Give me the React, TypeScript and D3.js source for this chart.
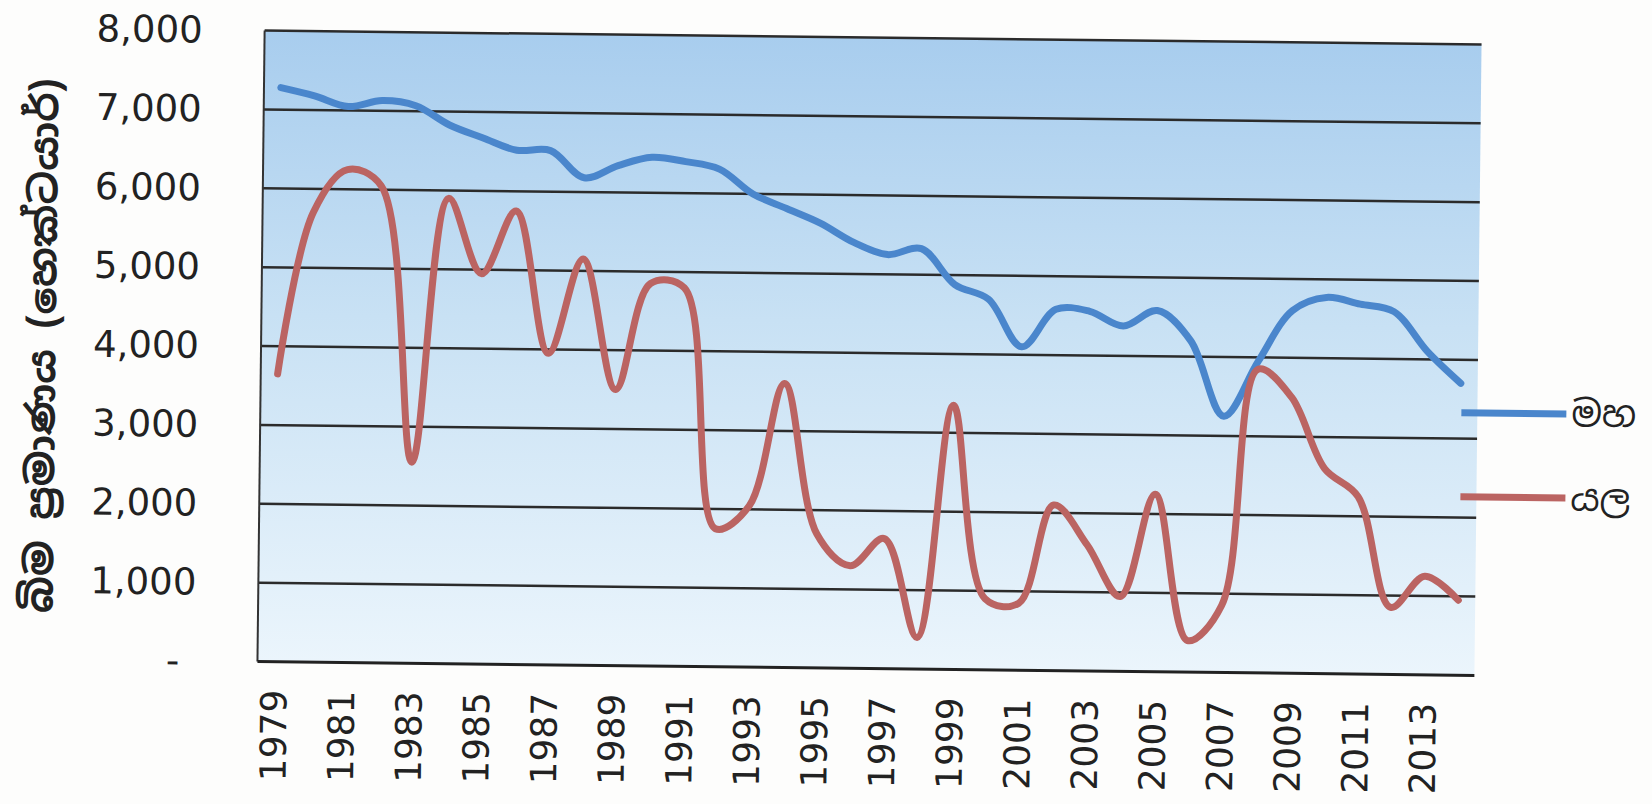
import React from 'react';
import * as d3 from 'd3';

// cultivated extent per season, hectares
const years = [
  1979, 1980, 1981, 1982, 1983, 1984, 1985, 1986, 1987, 1988, 1989, 1990,
  1991, 1992, 1993, 1994, 1995, 1996, 1997, 1998, 1999, 2000, 2001, 2002,
  2003, 2004, 2005, 2006, 2007, 2008, 2009, 2010, 2011, 2012, 2013, 2014,
];
const maha = [
  7280, 7180, 7050, 7130, 7070, 6830, 6670, 6520, 6520, 6180, 6340, 6450,
  6400, 6310, 6000, 5820, 5640, 5400, 5250, 5330, 4880, 4700, 4100, 4580,
  4560, 4380, 4580, 4200, 3250, 3950, 4600, 4770, 4690, 4600, 4100, 3700,
];
const yala = [
  3650, 5700, 6250, 6050, 2550, 5900, 4950, 5750, 3950, 5150, 3500, 4850,
  4800, 1750, 2050, 3600, 1700, 1300, 1650, 400, 3350, 900, 850, 2100,
  1600, 950, 2250, 400, 850, 3850, 3500, 2600, 2250, 850, 1250, 950,
];
const yTicks = [0, 1000, 2000, 3000, 4000, 5000, 6000, 7000, 8000];
const xTickYears = years.filter((_, i) => i % 2 === 0 && i < 35);
const seriesNames = ['මහ', 'යල'];
const seriesColors = ['#4a86cc', '#bb6462'];
const yTitle = 'බිම ප්‍රමාණය (හෙක්ටයාර්)';

const W = 1652;
const H = 804;
const margin = { top: 37.5, right: 174, bottom: 135.5, left: 261 };
const numFont = '"DejaVu Sans", Verdana, sans-serif';
const sinFont = '"Noto Sans Sinhala", "Iskoola Pota", "Noto Sans", sans-serif';

const App: React.FC = () => {
  const x = d3.scaleBand<number>()
    .domain(years)
    .range([margin.left, W - margin.right]);
  const y = d3.scaleLinear()
    .domain([0, 8000])
    .range([H - margin.bottom, margin.top]);
  const cx = (yr: number) => x(yr)! + x.bandwidth() / 2;

  const line = d3.line<number>()
    .x((_, i) => cx(years[i]))
    .y(d => y(d))
    .curve(d3.curveCatmullRom.alpha(0.5));

  const fmt = d3.format(',');
  const plotW = W - margin.right - margin.left;
  const series = [maha, yala];

  return (
    <svg width={W} height={H} style={{ position: 'absolute', left: 0, top: 0, background: '#fdfdfc' }}>
      <defs>
        <linearGradient id="plotBg" x1="0" y1="0" x2="0" y2="1">
          <stop offset="0" stopColor="#a8cdee" />
          <stop offset="0.45" stopColor="#c8e1f4" />
          <stop offset="1" stopColor="#ebf5fc" />
        </linearGradient>
      </defs>
      {/* the scan is slightly rotated */}
      <g transform="rotate(0.65, 870, 353)">
        <rect x={margin.left} y={y(8000)} width={plotW} height={y(0) - y(8000)} fill="url(#plotBg)" />

        {yTicks.filter(t => t > 0).map(t => (
          <line key={t} x1={margin.left} x2={W - margin.right} y1={y(t)} y2={y(t)}
            stroke="#2b2b2b" strokeWidth={2.5} />
        ))}
        <line x1={margin.left} x2={margin.left} y1={y(8000)} y2={y(0)} stroke="#333" strokeWidth={2} />
        <line x1={margin.left} x2={W - margin.right} y1={y(0)} y2={y(0)} stroke="#222" strokeWidth={3} />

        {yTicks.map(t => (
          <text key={t} x={t === 0 ? 176 : 199} y={y(t)} textAnchor={t === 0 ? 'middle' : 'end'}
            dominantBaseline="central" fontFamily={numFont} fontSize={37} fill="#222">
            {t === 0 ? '-' : fmt(t)}
          </text>
        ))}

        {xTickYears.map(yr => (
          <text key={yr} transform={`translate(${cx(yr)},${y(0) + 28}) rotate(-90)`}
            textAnchor="end" dominantBaseline="central" fontFamily={numFont} fontSize={36} fill="#222">
            {yr}
          </text>
        ))}

        {series.map((s, i) => (
          <path key={i} d={line(s) ?? ''} fill="none" stroke={seriesColors[i]} strokeWidth={7}
            strokeLinecap="round" strokeLinejoin="round" />
        ))}

        {seriesNames.map((name, i) => (
          <g key={name} transform={`translate(0,${406 + i * 84})`}>
            <line x1={1462} x2={1567} y1={0} y2={0} stroke={seriesColors[i]} strokeWidth={7} />
            <text x={1572} y={0} dominantBaseline="central" fontFamily={sinFont} fontSize={36} fill="#222">
              {name}
            </text>
          </g>
        ))}

        <text transform="translate(42,355) rotate(-90)" textAnchor="middle" dominantBaseline="central"
          fontFamily={sinFont} fontSize={38} fontWeight="bold" fill="#222"
          textLength={535} lengthAdjust="spacingAndGlyphs">
          {yTitle}
        </text>
      </g>
    </svg>
  );
};

export default App;
